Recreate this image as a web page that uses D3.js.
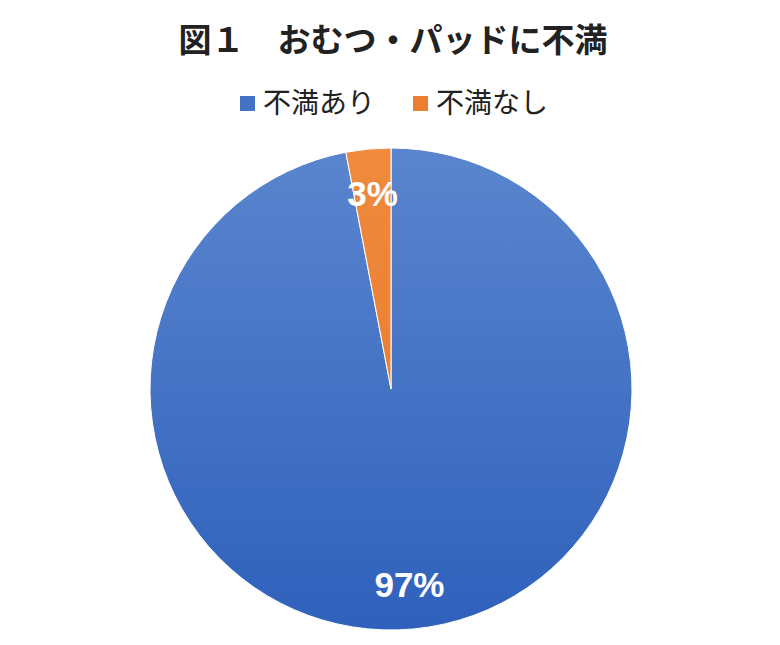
<!DOCTYPE html>
<html><head><meta charset="utf-8">
<script src="https://cdn.jsdelivr.net/npm/d3@7"></script>
<style>html,body{margin:0;padding:0;background:#fff;}</style>
</head><body>
<svg id="chart" width="780" height="645"></svg>
<script>
const title = "図１　おむつ・パッドに不満";
const categories = ["不満あり", "不満なし"];
const values = [97, 3];
const labels = ["97%", "3%"];
const colorsTop = ["#5A85CE", "#EF8A3E"];
const colorsBottom = ["#2F61BC", "#E8762A"];
const legendColors = ["#4472C4", "#ED7D31"];

const svg = d3.select("#chart");
const W = 780, H = 645;
const cx = 391, cy = 389, r = 241;
const jp = "'Noto Sans CJK JP', 'Noto Sans', sans-serif";

const defs = svg.append("defs");
categories.forEach((c, i) => {
  const g = defs.append("linearGradient").attr("id", "grad" + i)
    .attr("gradientUnits", "userSpaceOnUse")
    .attr("x1", 0).attr("y1", -r).attr("x2", 0).attr("y2", r);
  g.append("stop").attr("offset", "0%").attr("stop-color", colorsTop[i]);
  g.append("stop").attr("offset", "100%").attr("stop-color", colorsBottom[i]);
});

svg.append("text").attr("x", 393).attr("y", 52)
  .attr("text-anchor", "middle").attr("font-family", jp)
  .attr("font-weight", "bold").attr("font-size", 33).attr("fill", "#222")
  .text(title);

// legend
const legendX = [240, 413];
const leg = svg.append("g");
categories.forEach((c, i) => {
  leg.append("rect").attr("x", legendX[i]).attr("y", 96).attr("width", 15).attr("height", 15)
    .attr("fill", legendColors[i]);
  leg.append("text").attr("x", legendX[i] + 23).attr("y", 113)
    .attr("font-family", jp).attr("font-size", 28).attr("fill", "#222")
    .text(c);
});

const pie = d3.pie().sort(null).value(d => d);
const arcs = pie(values);
const arc = d3.arc().innerRadius(0).outerRadius(r);
const labelArc = d3.arc().innerRadius(196).outerRadius(196);

const g = svg.append("g").attr("transform", `translate(${cx},${cy})`);
g.selectAll("path").data(arcs).join("path")
  .attr("d", arc)
  .attr("fill", (d, i) => `url(#grad${i})`)
  .attr("stroke", "#fff").attr("stroke-width", 1);

g.selectAll("text.lbl").data(arcs).join("text").attr("class", "lbl")
  .attr("transform", d => `translate(${labelArc.centroid(d)})`)
  .attr("text-anchor", "middle").attr("dy", "0.36em")
  .attr("font-family", "'Liberation Sans', Arial, sans-serif")
  .attr("font-weight", "bold").attr("font-size", 35).attr("fill", "#fff")
  .text((d, i) => labels[i]);
</script>
</body></html>
